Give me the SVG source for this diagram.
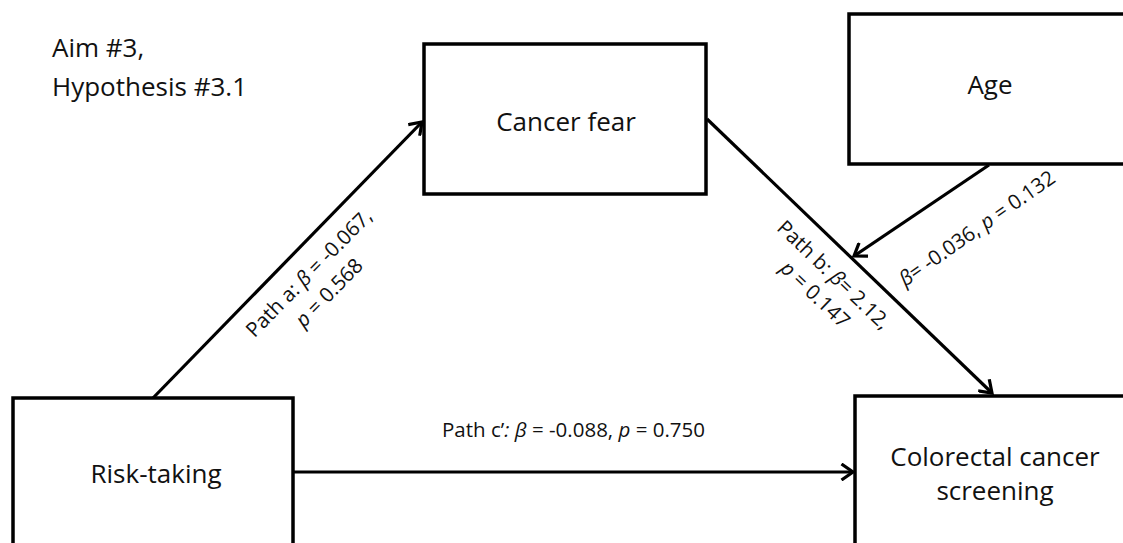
<svg xmlns="http://www.w3.org/2000/svg" width="1123" height="543" viewBox="0 0 1123 543">
  <style>
    .box { fill: #ffffff; stroke: #000000; stroke-width: 3.5; }
    .node { font-family: "Open Sans", "Liberation Sans", sans-serif; font-size: 26px; fill: #111111; text-anchor: middle; }
    .note { font-family: "Open Sans", "Liberation Sans", sans-serif; font-size: 26px; fill: #111111; }
    .edge { fill: none; stroke: #000000; stroke-width: 3.2; marker-end: url(#arrow); }
    .lbl { font-family: "Open Sans", "Liberation Sans", sans-serif; font-size: 20.5px; fill: #111111; }
    .it { font-style: italic; }
  </style>
  <defs>
    <marker id="arrow" viewBox="0 0 16 18" markerWidth="16" markerHeight="18" refX="13" refY="9" orient="auto" markerUnits="userSpaceOnUse">
      <path d="M1.5,1 L13,9 L1.5,17" fill="none" stroke="#000000" stroke-width="3.2" stroke-linejoin="miter"/>
    </marker>
  </defs>
  <rect width="1123" height="543" fill="#ffffff"/>

  <g id="note">
    <text class="note" x="52" y="57">Aim #3,</text>
    <text class="note" x="52" y="96">Hypothesis #3.1</text>
  </g>

  <g id="node-cancer-fear">
    <rect class="box" x="424" y="44" width="282" height="150"/>
    <text class="node" x="566" y="131">Cancer fear</text>
  </g>

  <g id="node-age">
    <rect class="box" x="849" y="14" width="282" height="150"/>
    <text class="node" x="990" y="94">Age</text>
  </g>

  <g id="node-risk-taking">
    <rect class="box" x="13" y="398" width="280" height="150"/>
    <text class="node" x="156" y="483">Risk-taking</text>
  </g>

  <g id="node-screening">
    <rect class="box" x="855" y="396" width="282" height="150"/>
    <text class="node" x="995" y="466">Colorectal cancer</text>
    <text class="node" x="995" y="500">screening</text>
  </g>

  <g id="connectors">
    <line class="edge" x1="153" y1="398" x2="422" y2="122"/>
    <line class="edge" x1="707" y1="119" x2="992" y2="393"/>
    <line class="edge" x1="989" y1="165" x2="854" y2="256"/>
    <line class="edge" x1="293" y1="472" x2="853" y2="472"/>
  </g>

  <g id="labels">
    <g transform="translate(314,278) rotate(-45.5)">
      <text class="lbl" x="0" y="0" text-anchor="middle">Path a: <tspan class="it">β</tspan> = -0.067,</text>
      <text class="lbl" x="0" y="28" text-anchor="middle"><tspan class="it">p</tspan> = 0.568</text>
    </g>
    <g transform="translate(829,280) rotate(43.7)">
      <text class="lbl" x="0" y="0" text-anchor="middle">Path b: <tspan class="it">β</tspan>= 2.12,</text>
      <text class="lbl" x="0" y="27" text-anchor="middle"><tspan class="it">p</tspan> = 0.147</text>
    </g>
    <g transform="translate(981,234) rotate(-35)">
      <text class="lbl" x="0" y="0" text-anchor="middle"><tspan class="it">β</tspan>= -0.036, <tspan class="it">p</tspan> = 0.132</text>
    </g>
    <text class="lbl" x="442" y="437">Path c’<tspan class="it">: β</tspan> = -0.088, <tspan class="it">p</tspan> = 0.750</text>
  </g>
</svg>
